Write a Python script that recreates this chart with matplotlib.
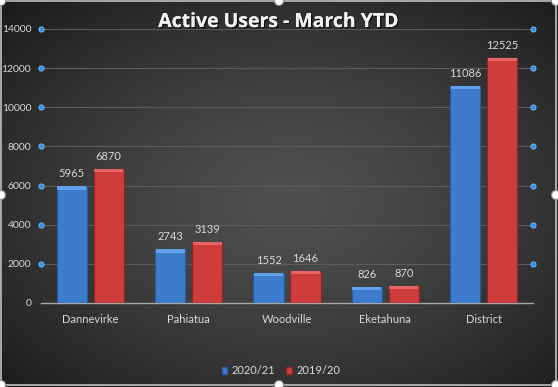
import numpy as np
import matplotlib
matplotlib.use("Agg")
import matplotlib.pyplot as plt
import matplotlib.patheffects as pe
from matplotlib.patches import Rectangle, Circle

categories = ["Dannevirke", "Pahiatua", "Woodville", "Eketahuna", "District"]
series_names = ["2020/21", "2019/20"]
values_2021 = [5965, 2743, 1552, 826, 11086]
values_1920 = [6870, 3139, 1646, 870, 12525]
yticks = [0, 2000, 4000, 6000, 8000, 10000, 12000, 14000]

W, H = 558, 387
fig = plt.figure(figsize=(W / 100, H / 100), dpi=100)
plt.rcParams['font.family'] = ['Lato', 'DejaVu Sans']

# background radial gradient
bg = fig.add_axes([0, 0, 1, 1], zorder=-10)
yy, xx = np.mgrid[0:1:400j, 0:1:560j]
r = np.sqrt(((xx - 0.52) / 0.75) ** 2 + ((yy - 0.52) / 0.75) ** 2)
r = np.clip(r / 0.95, 0, 1)
inner = np.array([0x50, 0x50, 0x50]) / 255
outer = np.array([0x1c, 0x1c, 0x1c]) / 255
img = inner[None, None, :] * (1 - r[..., None] ** 1.3) + outer[None, None, :] * (r[..., None] ** 1.3)
bg.imshow(img, extent=[0, 1, 0, 1], aspect='auto', origin='upper')
bg.set_xlim(0, 1); bg.set_ylim(0, 1)
bg.axis('off')

ax = fig.add_axes([41 / W, 1 - 303 / H, (533 - 41) / W, (303 - 29) / H])
ax.patch.set_alpha(0)
x = np.arange(len(categories))
off = 0.188
bw = 0.305
blue, blue_top, blue_edge = '#3d7ccc', '#62a0ea', '#2a5a9a'
red, red_top, red_edge = '#cf3c3c', '#e86464', '#8e2424'

for vals, sign, c, ct, ce in [(values_2021, -1, blue, blue_top, blue_edge),
                              (values_1920, 1, red, red_top, red_edge)]:
    ax.bar(x + sign * off, vals, width=bw, color=c, edgecolor=ce, linewidth=0.8, zorder=3)
    band = 170
    ax.bar(x + sign * off, [band] * len(vals), bottom=[v - band for v in vals],
           width=bw * 0.96, color=ct, linewidth=0, zorder=4)
    for xi, v in zip(x + sign * off, vals):
        ax.annotate(str(v), (xi, v), xytext=(0, 5), textcoords='offset points',
                    ha='center', va='bottom', color='#d9d9d9', fontsize=8, zorder=5)

ax.set_xlim(-0.5, len(categories) - 0.5)
ax.set_ylim(0, 14000)
ax.set_yticks(yticks)
ax.set_yticklabels([str(t) for t in yticks])
ax.set_xticks(x)
ax.set_xticklabels(categories)
ax.tick_params(axis='both', length=0, colors='#d9d9d9')
ax.tick_params(axis='x', pad=8, labelsize=8)
ax.tick_params(axis='y', pad=7, labelsize=7.5)
ax.grid(axis='y', color='#5c5c5c', linewidth=0.8, zorder=0)
for s in ['top', 'left', 'right']:
    ax.spines[s].set_visible(False)
ax.spines['bottom'].set_color('#a6a6a6')
ax.spines['bottom'].set_linewidth(1.0)

# selection handles on gridlines
for xf in [0, 1]:
    ax.scatter([xf] * (len(yticks) - 1), yticks[1:], transform=ax.get_yaxis_transform(),
               s=14, color='#2f8fe8', edgecolor='#7cc4ff', linewidth=0.6, zorder=6, clip_on=False)

fig.text(0.5, 1 - 22 / H, "Active Users - March YTD", ha='center', va='center',
         color='#f2f2f2', fontsize=14, fontweight='bold', family=['Open Sans', 'DejaVu Sans'],
         path_effects=[pe.withSimplePatchShadow(offset=(1, -1), shadow_rgbFace='black', alpha=0.6), pe.Normal()])

# legend
leg_handles = [Rectangle((0, 0), 1, 1, facecolor=blue, edgecolor=blue_edge),
               Rectangle((0, 0), 1, 1, facecolor=red, edgecolor=red_edge)]
leg = fig.legend(leg_handles, series_names, loc='center', bbox_to_anchor=(281 / W, 1 - 371 / H),
                 ncol=2, frameon=False, fontsize=8, handlelength=0.5, handleheight=0.5,
                 handletextpad=0.4, columnspacing=1.0, labelcolor='#d9d9d9')

# chart frame and handles
frame = fig.add_axes([0, 0, 1, 1], zorder=20)
frame.set_xlim(0, W); frame.set_ylim(H, 0)
frame.axis('off')
frame.add_patch(Rectangle((1, 1), W - 3, H - 3, fill=False, edgecolor='#bfbfbf', linewidth=1.2))
for (hx, hy) in [(1, 1), (W / 2, 1), (W - 2, 1), (1, 195), (W - 2, 195),
                 (1, H - 2), (W / 2, H - 2), (W - 2, H - 2)]:
    frame.add_patch(Circle((hx, hy), 4.5, facecolor='white', edgecolor='#8c8c8c', linewidth=0.8))

fig.savefig('out.png', dpi=100)
